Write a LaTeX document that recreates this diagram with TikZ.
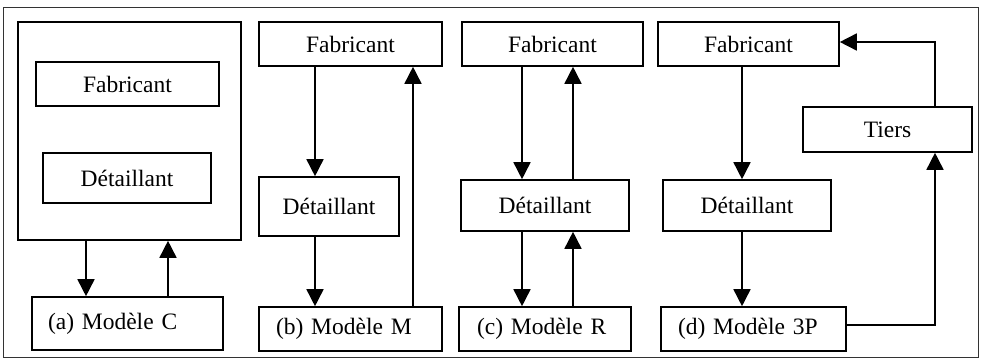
\documentclass[tikz,border=0pt]{standalone}
\usepackage{fontspec}
\setmainfont{Liberation Serif}
\usetikzlibrary{arrows.meta}
\begin{document}
\begin{tikzpicture}[x=1pt,y=-1pt,
  box/.style={draw, line width=1.6pt, rectangle, inner sep=0pt, font=\fontsize{23.5}{28}\selectfont},
  modelbox/.style={box, align=left, text width=#1},
  arr/.style={line width=1.6pt, -{Triangle[width=17pt,length=17pt]}}]
\useasboundingbox (0,0) rectangle (985,364);
\draw[line width=1pt, black!80] (3,7) rectangle (978,357);
% (a)
\node[box, minimum width=223, minimum height=218] (bigA) at (129.5,131) {};
\node[box, minimum width=183, minimum height=44] (fabA) at (127.5,84) {Fabricant};
\node[box, minimum width=168, minimum height=50] (detA) at (127,178) {Détaillant};
\node[modelbox=191, minimum height=53] (modA) at (127.5,323.5) {\hspace*{16pt}(a) Modèle C};
\coordinate (xa1) at (86,0); \coordinate (xa2) at (168,0);
\draw[arr] (bigA.south -| xa1) -- (modA.north -| xa1);
\draw[arr] (modA.north -| xa2) -- (bigA.south -| xa2);
% (b)
\node[box, minimum width=183, minimum height=44] (fabB) at (350.5,44) {Fabricant};
\node[box, minimum width=140, minimum height=59] (detB) at (329,206.5) {Détaillant};
\node[modelbox=183, minimum height=44] (modB) at (350.5,329) {\hspace*{17pt}(b) Modèle M};
\coordinate (xb1) at (315,0); \coordinate (xb2) at (413,0);
\draw[arr] (fabB.south -| xb1) -- (detB.north -| xb1);
\draw[arr] (detB.south -| xb1) -- (modB.north -| xb1);
\draw[arr] (modB.north -| xb2) -- (fabB.south -| xb2);
% (c)
\node[box, minimum width=181, minimum height=44] (fabC) at (552.5,44) {Fabricant};
\node[box, minimum width=168, minimum height=51] (detC) at (545,205.5) {Détaillant};
\node[modelbox=172, minimum height=44] (modC) at (545,329) {\hspace*{18pt}(c) Modèle R};
\coordinate (xc1) at (522,0); \coordinate (xc2) at (573,0);
\draw[arr] (fabC.south -| xc1) -- (detC.north -| xc1);
\draw[arr] (detC.north -| xc2) -- (fabC.south -| xc2);
\draw[arr] (detC.south -| xc1) -- (modC.north -| xc1);
\draw[arr] (modC.north -| xc2) -- (detC.south -| xc2);
% (d)
\node[box, minimum width=181, minimum height=44] (fabD) at (748.5,44) {Fabricant};
\node[box, minimum width=168, minimum height=51] (detD) at (747,205.5) {Détaillant};
\node[modelbox=185, minimum height=44] (modD) at (753.5,329) {\hspace*{17pt}(d) Modèle 3P};
\node[box, minimum width=169, minimum height=45] (tiers) at (887.5,129.5) {Tiers};
\coordinate (xd1) at (742,0); \coordinate (xd2) at (935,0);
\coordinate (yd1) at (0,42); \coordinate (yd2) at (0,325);
\draw[arr] (fabD.south -| xd1) -- (detD.north -| xd1);
\draw[arr] (detD.south -| xd1) -- (modD.north -| xd1);
\draw[arr] (modD.east |- yd2) -| (tiers.south -| xd2);
\draw[arr] (tiers.north -| xd2) |- (fabD.east |- yd1);
\end{tikzpicture}
\end{document}
